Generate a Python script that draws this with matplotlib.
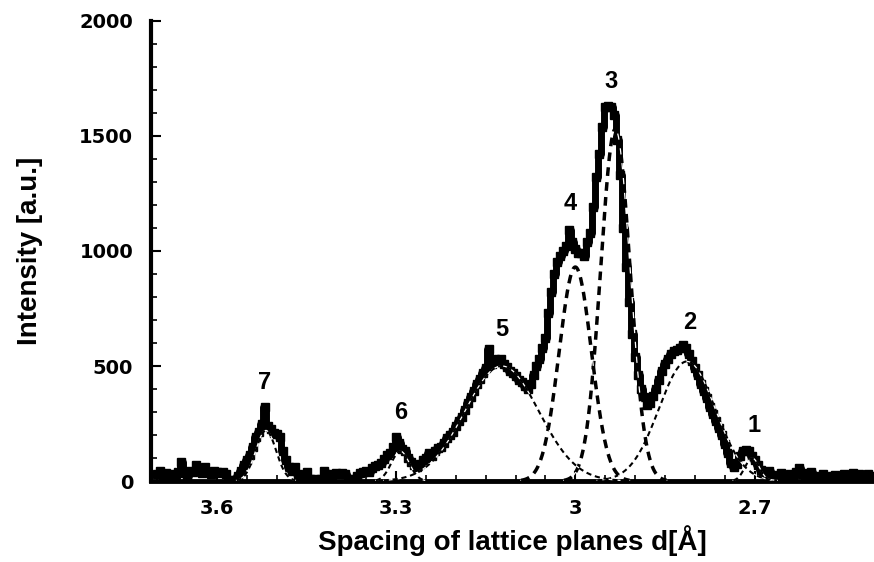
import numpy as np
import matplotlib
matplotlib.use("Agg")
import matplotlib.pyplot as plt
from matplotlib.ticker import MultipleLocator

plt.rcParams['font.family'] = ['Liberation Sans', 'DejaVu Sans']
plt.rcParams['font.weight'] = 'bold'

# measured profile, d from 3.700 down to 2.500 in 0.005 steps
d_start, d_step = 3.700, -0.005
intensity = [
    30, 45, 20, 35, 25, 30, 15, 40, 85, 35,
    20, 45, 40, 70, 50, 35, 60, 40, 30, 45,
    40, 35, 40, 30, 5, 0, 5, 20, 45, 70,
    90, 115, 150, 190, 215, 250, 320, 240, 225, 210,
    205, 190, 130, 90, 60, 45, 60, 30, 15, 20,
    40, 10, 5, 10, 5, 10, 45, 10, 5, 30,
    35, 30, 35, 30, 10, 5, 10, 20, 35, 40,
    45, 40, 55, 65, 70, 80, 95, 115, 120, 150,
    190, 165, 140, 130, 100, 85, 70, 60, 75, 90,
    100, 120, 110, 130, 145, 150, 165, 185, 200, 215,
    240, 260, 280, 310, 340, 365, 390, 420, 445, 470,
    490, 575, 510, 530, 520, 530, 510, 495, 480, 470,
    455, 440, 430, 415, 400, 420, 460, 500, 530, 580,
    620, 730, 820, 900, 950, 980, 1000, 1020, 1090, 1040,
    1010, 990, 990, 980, 1040, 1080, 1190, 1320, 1420, 1540,
    1625, 1630, 1625, 1590, 1480, 1330, 1100, 930, 780, 640,
    540, 460, 400, 365, 330, 340, 370, 400, 440, 480,
    510, 530, 550, 565, 570, 580, 590, 580, 550, 520,
    490, 460, 420, 390, 360, 320, 290, 260, 230, 200,
    160, 120, 80, 60, 75, 110, 130, 135, 130, 110,
    90, 70, 50, 40, 30, 45, 20, 15, 25, 35,
    20, 10, 30, 20, 40, 55, 30, 20, 35, 40,
    15, 10, 20, 30, 15, 10, 20, 25, 10, 20,
    30, 15, 25, 35, 20, 30, 15, 25, 30, 20,
]
spacing = d_start + d_step * np.arange(len(intensity))

# fitted peak components
peak_ids = ['1', '2', '3', '4', '5', '6', '7']
peak_center = [2.704, 2.813, 2.933, 3.000, 3.123, 3.293, 3.518]
peak_height = [100, 520, 1530, 930, 500, 130, 220]
peak_sigma = [0.012, 0.047, 0.0245, 0.027, 0.062, 0.015, 0.017]
label_pos = [(2.700, 243), (2.808, 690), (2.941, 1735), (3.009, 1208),
             (3.123, 660), (3.292, 300), (3.521, 430)]

fig = plt.figure(figsize=(8.74, 5.62), dpi=100)
ax = fig.add_axes([0.173, 0.144, 0.827, 0.819])

ax.plot(spacing, intensity, color='black', lw=5, marker='s', ms=6,
        drawstyle='steps-mid', zorder=3)

xf = np.linspace(3.71, 2.50, 1500)
for c, h, s, pid in zip(peak_center, peak_height, peak_sigma, peak_ids):
    yf = h * np.exp(-(xf - c) ** 2 / (2 * s ** 2))
    yf = np.where(yf > 3, yf, np.nan)
    lw = 2.5 if pid in ('3', '4') else 1.5
    ax.plot(xf, yf, color='white', lw=0.9, zorder=4)
    ax.plot(xf, yf, color='black', lw=lw, ls=(0, (2.5, 1.8)), zorder=4)

for pid, (x, y) in zip(peak_ids, label_pos):
    ax.text(x, y, pid, ha='center', va='center', fontsize=17, fontweight='bold')

ax.set_xlim(3.71, 2.50)
ax.set_ylim(0, 2000)
ax.xaxis.set_minor_locator(MultipleLocator(0.05))
ax.yaxis.set_major_locator(MultipleLocator(500))
ax.yaxis.set_minor_locator(MultipleLocator(100))
ax.set_xticks([3.6, 3.3, 3.0, 2.7])
ax.set_xticklabels(['3.6', '3.3', '3', '2.7'])

ax.spines['top'].set_visible(False)
ax.spines['right'].set_visible(False)
ax.spines['left'].set_linewidth(3)
ax.spines['bottom'].set_linewidth(3.5)
ax.tick_params(which='major', direction='in', length=7, width=1.5, pad=13)
ax.tick_params(which='minor', direction='in', length=4, width=1.2)
for lab in ax.get_xticklabels() + ax.get_yticklabels():
    lab.set_fontweight('bold')
    lab.set_fontfamily('DejaVu Sans')
    lab.set_fontsize(14)

ax.set_xlabel('Spacing of lattice planes d[Å]', fontsize=20, fontweight='bold', labelpad=5)
ax.set_ylabel('Intensity [a.u.]', fontsize=20, fontweight='bold', labelpad=26)

fig.savefig('out.png', dpi=100)
